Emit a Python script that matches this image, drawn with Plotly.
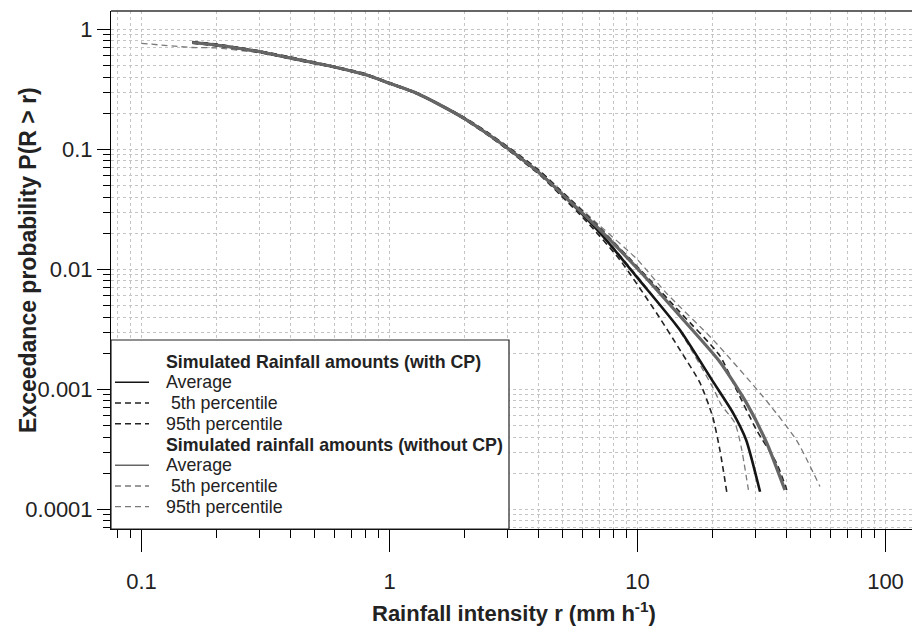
import plotly.graph_objects as go

# ---------------- data ----------------
# Simulated rainfall amounts WITH CP
with_avg_r = [0.16, 0.2, 0.3, 0.435, 0.593, 0.809, 1.0, 1.287, 1.6, 2.0, 2.465, 3.06, 4.04, 4.87, 7.06, 10.29, 14.83, 20.1, 24.3, 27.4, 31.2]
with_avg_p = [0.776, 0.74, 0.65, 0.555, 0.488, 0.416, 0.355, 0.293, 0.234, 0.181, 0.136, 0.0987, 0.063, 0.044, 0.0201, 0.0079, 0.00312, 0.00117, 0.000634, 0.00038, 0.00014]

with_p5_r = [0.16, 0.2, 0.3, 0.435, 0.593, 0.809, 1.0, 1.287, 1.6, 2.0, 2.465, 3.06, 4.04, 4.87, 6.26, 8.49, 11.95, 14.83, 17.87, 20.1, 21.5, 22.9]
with_p5_p = [0.79, 0.752, 0.66, 0.566, 0.495, 0.424, 0.36, 0.296, 0.233, 0.178, 0.133, 0.096, 0.061, 0.042, 0.0248, 0.012, 0.0043, 0.00213, 0.00113, 0.00059, 0.00031, 0.00014]

with_p95_r = [0.16, 0.2, 0.3, 0.435, 0.593, 0.809, 1.0, 1.287, 1.6, 2.0, 2.465, 3.06, 4.04, 4.87, 7.06, 10.29, 14.83, 21.5, 25.1, 30.2, 36.4, 40.0]
with_p95_p = [0.765, 0.728, 0.642, 0.546, 0.482, 0.41, 0.352, 0.29, 0.236, 0.185, 0.14, 0.102, 0.066, 0.046, 0.0221, 0.00986, 0.0044, 0.0019, 0.000987, 0.000458, 0.000242, 0.000145]

# Simulated rainfall amounts WITHOUT CP
wo_avg_r = [0.16, 0.2, 0.3, 0.435, 0.593, 0.809, 1.0, 1.287, 1.6, 2.0, 2.465, 3.06, 4.04, 4.87, 7.06, 10.29, 14.83, 21.5, 27.5, 33.2, 39.3]
wo_avg_p = [0.776, 0.74, 0.65, 0.555, 0.488, 0.416, 0.355, 0.293, 0.234, 0.181, 0.136, 0.0987, 0.063, 0.044, 0.0213, 0.0095, 0.00408, 0.00169, 0.00077, 0.000357, 0.000145]

wo_p5_r = [0.1, 0.16, 0.2, 0.3, 0.435, 0.593, 0.809, 1.0, 1.287, 1.6, 2.0, 2.465, 3.06, 4.04, 4.87, 7.06, 10.29, 14.83, 20.1, 21.8, 24.7, 26.2, 28.0]
wo_p5_p = [0.764, 0.705, 0.7, 0.636, 0.55, 0.482, 0.41, 0.35, 0.289, 0.231, 0.179, 0.134, 0.097, 0.062, 0.043, 0.0205, 0.0081, 0.00305, 0.00104, 0.00074, 0.000524, 0.00033, 0.000145]

wo_p95_r = [0.16, 0.2, 0.3, 0.435, 0.593, 0.809, 1.0, 1.287, 1.6, 2.0, 2.465, 3.06, 4.04, 4.87, 7.06, 9.93, 13.1, 20.2, 32.1, 43.7, 54.4]
wo_p95_p = [0.785, 0.755, 0.662, 0.562, 0.494, 0.422, 0.36, 0.297, 0.238, 0.184, 0.139, 0.101, 0.065, 0.046, 0.023, 0.0122, 0.0063, 0.00258, 0.000867, 0.000378, 0.000155]

x_tick_vals = [0.1, 1, 10, 100]
x_tick_text = ["0.1", "1", "10", "100"]
y_tick_vals = [1, 0.1, 0.01, 0.001, 0.0001]
y_tick_text = ["1", "0.1", "0.01", "0.001", "0.0001"]

legend_rows = [
    ("<b>Simulated Rainfall amounts (with CP)</b>", None),
    ("Average", "with_avg"),
    ("\u00a05th percentile", "with_p5"),
    ("95th percentile", "with_p95"),
    ("<b>Simulated rainfall amounts (without CP)</b>", None),
    ("Average", "wo_avg"),
    ("\u00a05th percentile", "wo_p5"),
    ("95th percentile", "wo_p95"),
]

# ---------------- styles ----------------
FONT = "Liberation Sans, Arial, Helvetica, sans-serif"
TXT = "#222222"
styles = {
    "with_avg": dict(color="#151515", width=2.6, dash="solid"),
    "with_p5": dict(color="#222222", width=1.6, dash="6px,4px"),
    "with_p95": dict(color="#222222", width=1.6, dash="6px,4px"),
    "wo_avg": dict(color="#666666", width=3.2, dash="solid"),
    "wo_p5": dict(color="#7a7a7a", width=1.3, dash="6px,4px"),
    "wo_p95": dict(color="#7a7a7a", width=1.3, dash="6px,4px"),
}

W, H = 912, 630
ML, MR, MT, MB = 111, 0, 11, 101
PW, PH = W - ML - MR, H - MT - MB

# pixel positions -> log ranges
x_dec, x01_px = 248.0, 141.5
y_dec, y1_px = 120.0, 29.3
x_lo = -1 - (x01_px - ML) / x_dec
x_hi = x_lo + PW / x_dec
y_hi = (y1_px - MT) / y_dec
y_lo = y_hi - PH / y_dec


def px(xp):
    return (xp - ML) / PW


def py(yp):
    return (H - MB - yp) / PH


fig = go.Figure()
series = [
    ("wo_p95", wo_p95_r, wo_p95_p),
    ("wo_p5", wo_p5_r, wo_p5_p),
    ("with_p95", with_p95_r, with_p95_p),
    ("with_p5", with_p5_r, with_p5_p),
    ("with_avg", with_avg_r, with_avg_p),
    ("wo_avg", wo_avg_r, wo_avg_p),
]
for key, r, p in series:
    fig.add_trace(go.Scatter(x=r, y=p, mode="lines",
                             line=dict(shape="spline", smoothing=0.6, **styles[key]),
                             showlegend=False, hoverinfo="skip"))

grid = dict(showgrid=True, gridcolor="#c4c4c4", griddash="dot", gridwidth=1)

x_minor = [m * 10 ** e for e in (-2, -1, 0, 1) for m in range(2, 10)]
x_minor = [v for v in x_minor if 10 ** x_lo <= v <= 10 ** x_hi]
y_minor = [m * 10 ** e for e in (-5, -4, -3, -2, -1) for m in range(2, 10)]
y_minor = [v for v in y_minor if 10 ** y_lo <= v <= 10 ** y_hi]

fig.update_xaxes(type="log", range=[x_lo, x_hi], tickmode="array",
                 tickvals=x_tick_vals, ticktext=x_tick_text,
                 ticks="outside", ticklen=22, tickwidth=1, tickcolor="black",
                 showline=True, linecolor="black", linewidth=1, zeroline=False,
                 ticklabelstandoff=11,
                 tickfont=dict(family=FONT, size=22, color=TXT),
                 minor=dict(tickmode="array", tickvals=x_minor, ticks="outside",
                            ticklen=8, tickcolor="black", **grid),
                 **grid)
fig.update_yaxes(type="log", range=[y_lo, y_hi], tickmode="array",
                 tickvals=y_tick_vals, ticktext=y_tick_text,
                 ticks="outside", ticklen=13, tickwidth=1, tickcolor="black",
                 showline=True, linecolor="black", linewidth=1, zeroline=False,
                 tickfont=dict(family=FONT, size=22, color=TXT),
                 minor=dict(tickmode="array", tickvals=y_minor, ticks="outside",
                            ticklen=7, tickcolor="black", **grid),
                 **grid)

shapes = [
    # top frame line
    dict(type="line", xref="paper", yref="paper", x0=0, x1=1, y0=1, y1=1,
         line=dict(color="#333333", width=1.5), layer="above"),
    # legend box
    dict(type="rect", xref="paper", yref="paper", x0=px(111), x1=px(509),
         y0=py(529), y1=py(340), fillcolor="white",
         line=dict(color="#222222", width=1.2), layer="above"),
]
annotations = []
row_y = [361.7, 382.3, 403.0, 423.7, 444.7, 465.3, 486.0, 506.7]
for (label, key), yy in zip(legend_rows, row_y):
    annotations.append(dict(xref="paper", yref="paper", x=px(164), y=py(yy),
                            xanchor="left", yanchor="middle", showarrow=False,
                            text=label, font=dict(family=FONT, size=17.8, color=TXT)))
    if key is not None:
        st = styles[key]
        shapes.append(dict(type="line", xref="paper", yref="paper",
                           x0=px(115), x1=px(149), y0=py(yy), y1=py(yy),
                           line=dict(color=st["color"], width=min(st["width"], 1.6),
                                     dash=st["dash"]), layer="above"))

annotations.append(dict(xref="paper", yref="paper", x=px(514), y=py(612),
                        xanchor="center", yanchor="middle", showarrow=False,
                        text="<b>Rainfall intensity r (mm h<sup>-1</sup>)</b>",
                        font=dict(family=FONT, size=22, color=TXT)))
annotations.append(dict(xref="paper", yref="paper", x=px(28), y=py(260),
                        xanchor="center", yanchor="middle", showarrow=False,
                        textangle=-90,
                        text="<b>Exceedance probability P(R > r)</b>",
                        font=dict(family=FONT, size=23, color=TXT)))

fig.update_layout(width=W, height=H, autosize=False,
                  margin=dict(l=ML, r=MR, t=MT, b=MB),
                  paper_bgcolor="white", plot_bgcolor="white",
                  showlegend=False, shapes=shapes, annotations=annotations)

fig.write_html("out.html", config={"displayModeBar": False, "staticPlot": True},
               post_script="document.body.style.margin='0px';document.body.style.padding='0px';")
